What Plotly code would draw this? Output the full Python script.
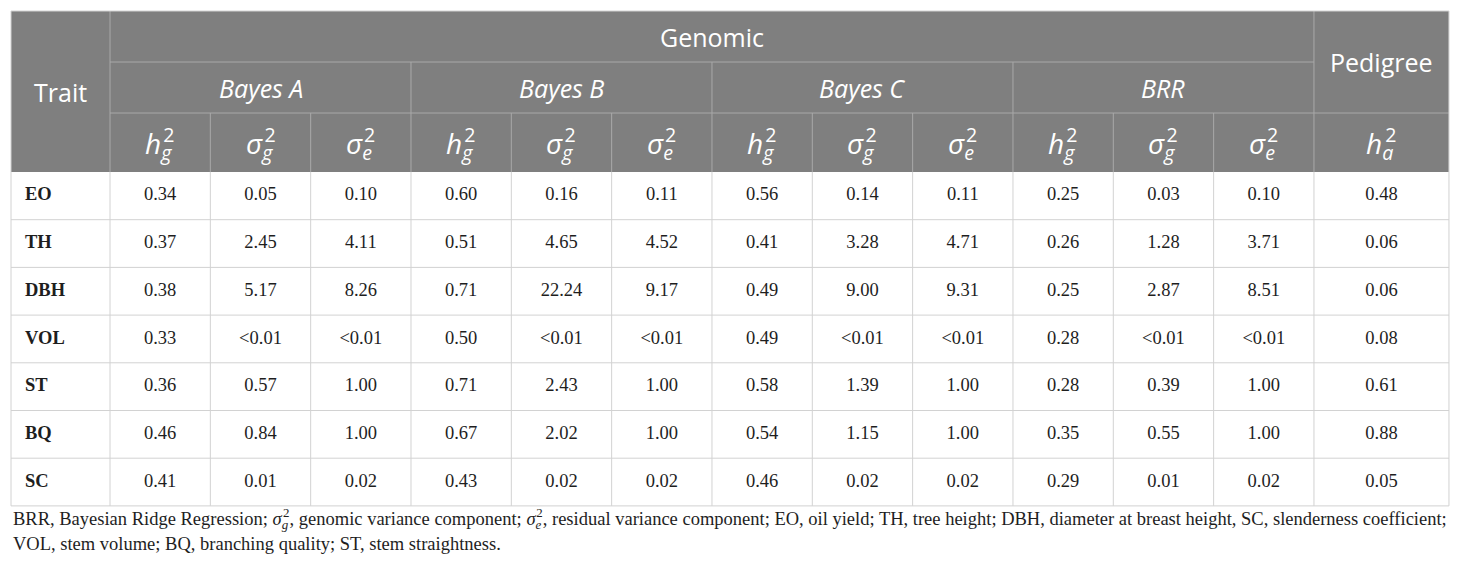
import numpy as np
import plotly.graph_objects as go

# ---- table data ----
traits = ['EO', 'TH', 'DBH', 'VOL', 'ST', 'BQ', 'SC']
methods = ['Bayes A', 'Bayes B', 'Bayes C', 'BRR']

bayes_a_h2 = ['0.34', '0.37', '0.38', '0.33', '0.36', '0.46', '0.41']
bayes_a_sg = ['0.05', '2.45', '5.17', '<0.01', '0.57', '0.84', '0.01']
bayes_a_se = ['0.10', '4.11', '8.26', '<0.01', '1.00', '1.00', '0.02']
bayes_b_h2 = ['0.60', '0.51', '0.71', '0.50', '0.71', '0.67', '0.43']
bayes_b_sg = ['0.16', '4.65', '22.24', '<0.01', '2.43', '2.02', '0.02']
bayes_b_se = ['0.11', '4.52', '9.17', '<0.01', '1.00', '1.00', '0.02']
bayes_c_h2 = ['0.56', '0.41', '0.49', '0.49', '0.58', '0.54', '0.46']
bayes_c_sg = ['0.14', '3.28', '9.00', '<0.01', '1.39', '1.15', '0.02']
bayes_c_se = ['0.11', '4.71', '9.31', '<0.01', '1.00', '1.00', '0.02']
brr_h2 = ['0.25', '0.26', '0.25', '0.28', '0.28', '0.35', '0.29']
brr_sg = ['0.03', '1.28', '2.87', '<0.01', '0.39', '0.55', '0.01']
brr_se = ['0.10', '3.71', '8.51', '<0.01', '1.00', '1.00', '0.02']
pedigree_h2 = ['0.48', '0.06', '0.06', '0.08', '0.61', '0.88', '0.05']

columns = [bayes_a_h2, bayes_a_sg, bayes_a_se,
           bayes_b_h2, bayes_b_sg, bayes_b_se,
           bayes_c_h2, bayes_c_sg, bayes_c_se,
           brr_h2, brr_sg, brr_se,
           pedigree_h2]

caption_lines = [
    'BRR, Bayesian Ridge Regression; {sg}, genomic variance component; {se}, residual variance component; '
    'EO, oil yield; TH, tree height; DBH, diameter at breast height, SC, slenderness coefficient;',
    'VOL, stem volume; BQ, branching quality; ST, stem straightness.',
]

# ---- layout geometry (pixels of the page) ----
W, H = 1460, 575
PAGE_PAD = 8  # default body margin of the html page
left, top = 11, 11
col_w = [99] + [100.33] * 12 + [135]
head_h = [51, 51, 59]
row_h = 47.7

xb = left + np.concatenate([[0], np.cumsum(col_w)])
yh = top + np.concatenate([[0], np.cumsum(head_h)])
yd = yh[-1] + row_h * np.arange(len(traits) + 1)
xc = (xb[:-1] + xb[1:]) / 2
yc = (yd[:-1] + yd[1:]) / 2

HEAD_BG = '#7f7f7f'
HEAD_LINE = '#a9a9a9'
GRID = '#d2d2d2'
TXT = '#1e1e1e'
SANS = 'Open Sans'
SERIF = 'Liberation Serif'


def sym(base, sub, size):
    # stacked sub/superscript: pull the "2" back over the subscript
    pull = int(size * 0.3)
    return ('<i>{b}</i><sub><i><span style="letter-spacing:-{p}px">{s}</span></i></sub>'
            '<sup>2</sup>').format(b=base, s=sub, p=pull)


fig = go.Figure()
shapes = []

# header background
shapes.append(dict(type='rect', x0=xb[0], x1=xb[-1], y0=yh[0], y1=yh[-1],
                   fillcolor=HEAD_BG, line_width=0, layer='below'))

def hline(x0, x1, y, color):
    shapes.append(dict(type='line', x0=x0, x1=x1, y0=y, y1=y, line=dict(color=color, width=1)))

def vline(x, y0, y1, color):
    shapes.append(dict(type='line', x0=x, x1=x, y0=y0, y1=y1, line=dict(color=color, width=1)))

# header inner lines
hline(xb[1], xb[13], yh[1], HEAD_LINE)
hline(xb[1], xb[14], yh[2], HEAD_LINE)
vline(xb[1], yh[0], yh[3], HEAD_LINE)
vline(xb[13], yh[0], yh[3], HEAD_LINE)
for k in (4, 7, 10):
    vline(xb[k], yh[1], yh[3], HEAD_LINE)
for k in range(2, 13):
    if k not in (4, 7, 10):
        vline(xb[k], yh[2], yh[3], HEAD_LINE)

# body grid
for y in yd[1:]:
    hline(xb[0], xb[-1], y, GRID)
for x in xb:
    vline(x, yd[0], yd[-1], GRID)
hline(xb[0], xb[-1], yh[0], GRID)
vline(xb[0], yh[0], yh[-1], GRID)
vline(xb[-1], yh[0], yh[-1], GRID)

annotations = []

def head(text, x, y, size=25):
    annotations.append(dict(text=text, x=x, y=y, xref='x', yref='y', showarrow=False,
                            font=dict(family=SANS, size=size, color='white')))

head('Trait', xc[0], (yh[0] + yh[3]) / 2)
head('Genomic', (xb[1] + xb[13]) / 2, (yh[0] + yh[1]) / 2)
head('Pedigree', xc[13], (yh[0] + yh[2]) / 2)
for m, name in enumerate(methods):
    head('<i>%s</i>' % name, (xb[1 + 3 * m] + xb[4 + 3 * m]) / 2, (yh[1] + yh[2]) / 2)
    for j, (b, s) in enumerate([('h', 'g'), ('σ', 'g'), ('σ', 'e')]):
        head(sym(b, s, 28), xc[1 + 3 * m + j], (yh[2] + yh[3]) / 2 + 1, size=28)
head(sym('h', 'a', 28), xc[13], (yh[2] + yh[3]) / 2 + 1, size=28)

# trait labels
fig.add_trace(go.Scatter(x=[xb[0] + 14] * len(traits), y=yc, text=['<b>%s</b>' % t for t in traits],
                         mode='text', textposition='middle right',
                         textfont=dict(family=SERIF, size=18.5, color=TXT), hoverinfo='skip'))
# values
for j, col in enumerate(columns):
    fig.add_trace(go.Scatter(x=[xc[j + 1]] * len(col), y=yc, text=col, mode='text',
                             textposition='middle center',
                             textfont=dict(family=SERIF, size=18.5, color=TXT), hoverinfo='skip'))

# caption
for i, line in enumerate(caption_lines):
    txt = line.format(sg=sym('σ', 'g', 18), se=sym('σ', 'e', 18))
    annotations.append(dict(text=txt, x=left, y=yd[-1] + 13 + 25.5 * i, xref='x', yref='y',
                            xanchor='left', showarrow=False,
                            font=dict(family=SERIF, size=18.5, color=TXT)))

fig.update_layout(width=W - 2 * PAGE_PAD, height=H - 2 * PAGE_PAD,
                  margin=dict(l=0, r=0, t=0, b=0),
                  paper_bgcolor='white', plot_bgcolor='white', showlegend=False,
                  shapes=shapes, annotations=annotations,
                  xaxis=dict(range=[PAGE_PAD, W - PAGE_PAD], visible=False, fixedrange=True),
                  yaxis=dict(range=[H - PAGE_PAD, PAGE_PAD], visible=False, fixedrange=True))

fig.write_html("out.html")
